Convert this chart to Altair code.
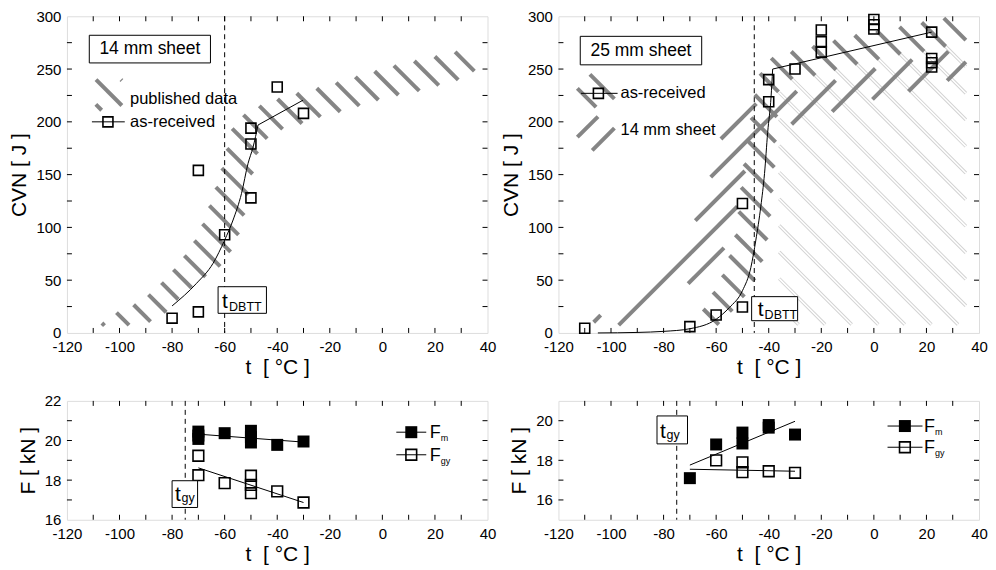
import math
import altair as alt
import pandas as pd

# ---------------- data ----------------
# 14 mm sheet, CVN vs t
t_14 = [-80, -70, -70, -60, -50, -50, -50, -40, -30]
cvn_14 = [14, 20, 154, 93, 128, 179, 194, 233, 208]
fit14_curve_t = [-80, -70.7, -64.4, -60, -56.8, -53.6, -51.1, -49.2, -47.3]
fit14_curve_v = [25.6, 47, 66, 88, 107, 132, 160.6, 176, 197]
fit14_shelf_t = [-47.3, -30.2]
fit14_shelf_v = [197, 220.5]

# 25 mm sheet, CVN vs t
t_25 = [-110, -70, -60, -50, -50, -40, -40, -30, -20, -20, -20, 0, 0, 0, 22, 22, 22, 22]
cvn_25 = [4.5, 6, 17, 24.6, 122.7, 219, 240, 250, 287, 276, 266, 297, 292, 288, 285, 260, 256, 252]
fit25_curve_t = [-105, -90, -80, -70, -60, -55, -50, -46.8, -44.9, -43, -41.6, -40.4, -39.1, -38.5]
fit25_curve_v = [0, 0.5, 1.5, 4, 13, 24, 40, 62, 88, 120, 151, 190, 224, 250]
fit25_shelf_t = [-38.5, 22]
fit25_shelf_v = [250, 285]

# published-data band for the 14 mm sheet (outline: upper-left edge then lower-right edge)
band14_t = [-107, -106, -97, -90, -83, -77.4, -72, -68.3, -65, -61.8, -59.3, -56.8, -51, -42, -32.7, -23,
            -13.7, -4.2, 5.3, 14.8, 25.6, 35,
            35, 24.9, 15.4, 5.3, -4.2, -13.7, -23.2, -32.1, -42, -47.3, -49.8, -51.7, -53.6, -57.7, -62,
            -68, -76, -82, -90, -101]
band14_v = [7, 15, 23, 34, 50, 66, 85, 104, 126, 149.5, 173, 197, 211, 220, 227, 233,
            240, 247, 254, 259, 265, 271,
            244, 237, 230, 225, 219, 211, 205, 197, 190.5, 171.6, 146, 122.7, 99, 77, 62,
            52, 36, 20, 8, 7]

# published-data band for the 25 mm sheet
band25_t = [-63, -66, -62, -57, -54, -52, -51, -50, -48.5, -47, -45, -42, -31, -21, -11, 0, 10, 20, 30, 35,
            35, 30, 20, 10, 0, -11, -20, -30, -36, -37, -38, -39.5, -41, -44, -48, -54, -57]
band25_v = [8, 18, 35, 58, 80, 100, 125, 150, 175, 200, 230, 258, 267, 273, 280, 286, 290, 295, 300, 303,
            276, 273, 267, 264, 258, 252, 245, 241, 238, 200, 150, 110, 80, 55, 38, 20, 8]
# region below the 25 mm band (thin hatching)
region25_t = [-36, 35, 35, 30, 20, 10, 0, -11, -20, -30, -36]
region25_v = [8, 8, 276, 273, 267, 264, 258, 252, 245, 241, 238]

# forces, 14 mm
fm14_t = [-70, -70, -70, -60, -50, -50, -50, -40, -30]
fm14 = [20.45, 20.25, 20.08, 20.37, 20.49, 20.17, 19.9, 19.78, 19.95]
fgy14_t = [-70, -70, -60, -50, -50, -50, -40, -30]
fgy14 = [19.23, 18.25, 17.85, 18.22, 17.76, 17.34, 17.43, 16.87]
fm14_fit_t = [-70, -30]
fm14_fit = [20.32, 19.92]
fgy14_fit_t = [-70, -30]
fgy14_fit = [18.62, 16.87]

# forces, 25 mm
fm25_t = [-70, -60, -50, -50, -40, -40, -30]
fm25 = [17.1, 18.8, 18.85, 19.4, 19.78, 19.65, 19.3]
fgy25_t = [-60, -50, -50, -40, -30]
fgy25 = [18.0, 17.9, 17.4, 17.45, 17.37]
fm25_fit_t = [-70, -30]
fm25_fit = [17.76, 19.97]
fgy25_fit_t = [-70, -30]
fgy25_fit = [17.55, 17.45]

t_dbtt_14 = -60
t_dbtt_25 = -45.5
t_gy_14 = -75
t_gy_25 = -75

# ---------------- layout / style ----------------
W = 421
H_TOP = 317
H_BOT = 119
XDOM = [-120, 40]
FONT = 'Liberation Sans'
HATCH = '#858585'


def to_px(t, v, H, ydom):
    return ((t - XDOM[0]) * W / (XDOM[1] - XDOM[0]), (ydom[1] - v) * H / (ydom[1] - ydom[0]))


def from_px(x, y, H, ydom):
    return (XDOM[0] + x * (XDOM[1] - XDOM[0]) / W, ydom[1] - y * (ydom[1] - ydom[0]) / H)


def hatch(ts, vs, kind, spacing, phase, H, ydom):
    """Clip a family of 45-degree screen lines to a polygon; returns segments in data units."""
    pts = [to_px(t, v, H, ydom) for t, v in zip(ts, vs)]
    if kind == 'back':  # "\"
        a, b = (-1, 1), (1, 1)
    else:  # "/"
        a, b = (1, 1), (1, -1)
    us = [a[0] * x + a[1] * y for x, y in pts]
    k = math.floor((min(us) - phase) / spacing)
    rows = []
    n = len(pts)
    while phase + k * spacing <= max(us):
        c = phase + k * spacing
        hits = []
        for i in range(n):
            (x1, y1), (x2, y2) = pts[i], pts[(i + 1) % n]
            f1 = a[0] * x1 + a[1] * y1 - c
            f2 = a[0] * x2 + a[1] * y2 - c
            if (f1 < 0) != (f2 < 0):
                r = f1 / (f1 - f2)
                hits.append((x1 + r * (x2 - x1), y1 + r * (y2 - y1)))
        hits.sort(key=lambda p: b[0] * p[0] + b[1] * p[1])
        for j in range(0, len(hits) - 1, 2):
            t1, v1 = from_px(*hits[j], H, ydom)
            t2, v2 = from_px(*hits[j + 1], H, ydom)
            rows.append({'t': t1, 'v': v1, 't2': t2, 'v2': v2})
        k += 1
    return pd.DataFrame(rows, columns=['t', 'v', 't2', 'v2'])


def x_axis():
    return alt.Axis(values=list(range(-120, 41, 20)), labelExpr="'' + datum.value",
                    title='t\u00a0\u00a0[ °C ]', domain=False, ticks=False, grid=False,
                    labelPadding=7, titlePadding=2, labelFontSize=15, titleFontSize=21,
                    titleFontWeight='normal', labelFlush=False, labelOverlap=False,
                    labelColor='black', titleColor='black', labelFont=FONT, titleFont=FONT)


def y_axis(values, title):
    return alt.Axis(values=values, labelExpr="'' + datum.value", title=title, domain=False,
                    ticks=False, grid=False, labelPadding=6, titlePadding=6, labelFontSize=15,
                    titleFontSize=21, titleFontWeight='normal', labelFlush=False,
                    labelOverlap=False, labelColor='black', titleColor='black',
                    labelFont=FONT, titleFont=FONT)


def make_panel(H, ydom, yvals, ytitle, ystep, layers_fn):
    xa = x_axis()
    ya = y_axis(yvals, ytitle)
    xs = alt.Scale(domain=XDOM, nice=False, zero=False)
    ys = alt.Scale(domain=ydom, nice=False, zero=False)

    def X(f='t'):
        return alt.X(f + ':Q', scale=xs, axis=xa)

    def Y(f='v'):
        return alt.Y(f + ':Q', scale=ys, axis=ya)

    layers = layers_fn(X, Y)

    # inward ticks on all four sides
    xt = pd.DataFrame({'t': list(range(-110, 40, 10))})
    yt_vals = []
    v = ydom[0] + ystep
    while v < ydom[1] - 1e-9:
        yt_vals.append(v)
        v += ystep
    yt = pd.DataFrame({'v': yt_vals})
    layers += [
        alt.Chart(xt).mark_rule(color='black', strokeWidth=1).encode(x=X(), y=alt.value(H), y2=alt.value(H - 5)),
        alt.Chart(xt).mark_rule(color='black', strokeWidth=1).encode(x=X(), y=alt.value(0), y2=alt.value(5)),
        alt.Chart(yt).mark_rule(color='black', strokeWidth=1).encode(y=Y(), x=alt.value(0), x2=alt.value(5)),
        alt.Chart(yt).mark_rule(color='black', strokeWidth=1).encode(y=Y(), x=alt.value(W), x2=alt.value(W - 5)),
    ]
    return alt.layer(*layers).properties(width=W, height=H)


def seg_layer(df, X, Y, color, width):
    return alt.Chart(df).mark_rule(color=color, strokeWidth=width, strokeCap='butt', clip=True).encode(
        x=X('t'), y=Y('v'), x2='t2:Q', y2='v2:Q')


def box_layer(t1, t2, v1, v2, X, Y):
    df = pd.DataFrame({'t': [t1], 't2': [t2], 'v': [v1], 'v2': [v2]})
    return alt.Chart(df).mark_rect(fill='white', stroke='black', strokeWidth=1).encode(
        x=X('t'), x2='t2:Q', y=Y('v'), y2='v2:Q')


def text_layer(t, v, txt, X, Y, size, dx=0, dy=0, baseline='middle', align='left'):
    df = pd.DataFrame({'t': [t], 'v': [v], 'label': [txt]})
    return alt.Chart(df).mark_text(font=FONT, fontSize=size, color='black', align=align,
                                   baseline=baseline, dx=dx, dy=dy).encode(
        x=X('t'), y=Y('v'), text='label:N')


def line_layer(ts, vs, X, Y, interp='linear'):
    df = pd.DataFrame({'t': ts, 'v': vs})
    return alt.Chart(df).mark_line(color='black', strokeWidth=1, interpolate=interp).encode(x=X('t'), y=Y('v'))


def sq_layer(ts, vs, X, Y, filled=False, size=100):
    df = pd.DataFrame({'t': ts, 'v': vs})
    if filled:
        m = alt.Chart(df).mark_point(shape='square', filled=True, size=size, color='black', opacity=1)
    else:
        m = alt.Chart(df).mark_point(shape='square', filled=False, size=size, color='black',
                                     strokeWidth=1.6, opacity=1)
    return m.encode(x=X('t'), y=Y('v'))


def vdash(t, X):
    return alt.Chart(pd.DataFrame({'t': [t]})).mark_rule(color='black', strokeWidth=1, strokeDash=[5, 4]).encode(x=X('t'))


YTOP = [0, 300]


# ---------- top-left: 14 mm sheet ----------
def tl_layers(X, Y):
    L = []
    L.append(seg_layer(hatch(band14_t, band14_v, 'back', 25, 22, H_TOP, YTOP), X, Y, HATCH, 4))
    # legend patch for "published data"
    L.append(seg_layer(hatch([-109, -99.1, -99.1, -109], [240, 240, 211, 211], 'back', 25, 9.3, H_TOP, YTOP), X, Y, HATCH, 4))
    L.append(vdash(t_dbtt_14, X))
    L.append(line_layer(fit14_curve_t, fit14_curve_v, X, Y, 'monotone'))
    L.append(line_layer(fit14_shelf_t, fit14_shelf_v, X, Y))
    L.append(sq_layer(t_14, cvn_14, X, Y))
    # legend
    L.append(line_layer([-110.5, -98], [200, 200], X, Y))
    L.append(sq_layer([-104.4], [200], X, Y))
    L.append(text_layer(-96, 221.5, 'published data', X, Y, 16.5))
    L.append(text_layer(-96, 200, 'as-received', X, Y, 16.5))
    # labels
    L.append(box_layer(-111.5, -65.4, 255.8, 282, X, Y))
    L.append(text_layer(-88.45, 268.9, '14 mm sheet', X, Y, 17.5, align='center'))
    L.append(box_layer(-62.5, -44.1, 18.6, 43.8, X, Y))
    L.append(text_layer(-62.5, 18.6, 't', X, Y, 21, dx=4, dy=-5, baseline='alphabetic'))
    L.append(text_layer(-62.5, 18.6, 'DBTT', X, Y, 12.5, dx=11, dy=-2, baseline='alphabetic'))
    return L


# ---------- top-right: 25 mm sheet ----------
def tr_layers(X, Y):
    L = []
    thin = hatch(region25_t, region25_v, 'back', 26.6, 15, H_TOP, YTOP)
    L.append(seg_layer(thin, X, Y, '#d2d2d2', 3.4))
    L.append(seg_layer(thin, X, Y, 'white', 1.5))
    L.append(seg_layer(hatch(band14_t, band14_v, 'fwd', 28, 5.5, H_TOP, YTOP), X, Y, HATCH, 4))
    L.append(seg_layer(hatch(band25_t, band25_v, 'back', 26.6, 15, H_TOP, YTOP), X, Y, HATCH, 4))
    # legend patches
    L.append(seg_layer(hatch([-112.8, -98.7, -98.7, -112.8], [245, 245, 214, 214], 'back', 26.6, 0, H_TOP, YTOP), X, Y, HATCH, 4))
    L.append(seg_layer(hatch([-112.8, -98.7, -98.7, -112.8], [205, 205, 173, 173], 'fwd', 28, 0, H_TOP, YTOP), X, Y, HATCH, 4))
    L.append(vdash(t_dbtt_25, X))
    L.append(line_layer(fit25_curve_t, fit25_curve_v, X, Y, 'monotone'))
    L.append(line_layer(fit25_shelf_t, fit25_shelf_v, X, Y))
    L.append(sq_layer(t_25, cvn_25, X, Y))
    L.append(line_layer([-111.4, -97.5], [227, 227], X, Y))
    L.append(sq_layer([-104.8], [227], X, Y))
    L.append(text_layer(-96.4, 227, 'as-received', X, Y, 16.5))
    L.append(text_layer(-96.4, 192, '14 mm sheet', X, Y, 16.5))
    L.append(box_layer(-111.7, -65.5, 254, 281, X, Y))
    L.append(text_layer(-88.6, 267.5, '25 mm sheet', X, Y, 17.5, align='center'))
    L.append(box_layer(-46.5, -29.0, 11.6, 34.4, X, Y))
    L.append(text_layer(-46.5, 11.6, 't', X, Y, 21, dx=6, dy=-5, baseline='alphabetic'))
    L.append(text_layer(-46.5, 11.6, 'DBTT', X, Y, 12.5, dx=13, dy=-2, baseline='alphabetic'))
    return L


# ---------- bottom-left ----------
YBL = [16, 22]


def bl_layers(X, Y):
    L = []
    L.append(vdash(t_gy_14, X))
    L.append(line_layer(fm14_fit_t, fm14_fit, X, Y))
    L.append(line_layer(fgy14_fit_t, fgy14_fit, X, Y))
    L.append(sq_layer(fm14_t, fm14, X, Y, filled=True, size=144))
    L.append(sq_layer(fgy14_t, fgy14, X, Y, size=115))
    L.append(box_layer(-80.0, -70.3, 16.62, 17.97, X, Y))
    L.append(text_layer(-80.0, 16.62, 't', X, Y, 21, dx=3, dy=-6, baseline='alphabetic'))
    L.append(text_layer(-80.0, 16.62, 'gy', X, Y, 12.5, dx=9.5, dy=-5, baseline='alphabetic'))
    # legend
    L.append(line_layer([5.3, 16.7], [20.42, 20.42], X, Y))
    L.append(sq_layer([11], [20.42], X, Y, filled=True, size=144))
    L.append(line_layer([5.3, 16.7], [19.28, 19.28], X, Y))
    L.append(sq_layer([11], [19.28], X, Y, size=115))
    L.append(text_layer(18, 20.42, 'F', X, Y, 18, dy=6, baseline='alphabetic'))
    L.append(text_layer(18, 20.42, 'm', X, Y, 9, dx=11, dy=9, baseline='alphabetic'))
    L.append(text_layer(18, 19.28, 'F', X, Y, 18, dy=6, baseline='alphabetic'))
    L.append(text_layer(18, 19.28, 'gy', X, Y, 9, dx=11, dy=9, baseline='alphabetic'))
    return L


# ---------- bottom-right ----------
YBR = [15, 21]


def br_layers(X, Y):
    L = []
    L.append(vdash(t_gy_25, X))
    L.append(line_layer(fm25_fit_t, fm25_fit, X, Y))
    L.append(line_layer(fgy25_fit_t, fgy25_fit, X, Y))
    L.append(sq_layer(fm25_t, fm25, X, Y, filled=True, size=144))
    L.append(sq_layer(fgy25_t, fgy25, X, Y, size=115))
    L.append(box_layer(-82.5, -70.9, 18.83, 20.24, X, Y))
    L.append(text_layer(-82.5, 18.83, 't', X, Y, 21, dx=3, dy=-6, baseline='alphabetic'))
    L.append(text_layer(-82.5, 18.83, 'gy', X, Y, 12.5, dx=9.5, dy=-5, baseline='alphabetic'))
    L.append(line_layer([5.2, 18.5], [19.73, 19.73], X, Y))
    L.append(sq_layer([11.8], [19.73], X, Y, filled=True, size=144))
    L.append(line_layer([5.2, 18.5], [18.66, 18.66], X, Y))
    L.append(sq_layer([11.8], [18.66], X, Y, size=115))
    L.append(text_layer(19.1, 19.73, 'F', X, Y, 18, dy=6, baseline='alphabetic'))
    L.append(text_layer(19.1, 19.73, 'm', X, Y, 9, dx=11, dy=9, baseline='alphabetic'))
    L.append(text_layer(19.1, 18.66, 'F', X, Y, 18, dy=6, baseline='alphabetic'))
    L.append(text_layer(19.1, 18.66, 'gy', X, Y, 9, dx=11, dy=9, baseline='alphabetic'))
    return L


p_tl = make_panel(H_TOP, YTOP, list(range(0, 301, 50)), 'CVN [ J ]', 25, tl_layers)
p_tr = make_panel(H_TOP, YTOP, list(range(0, 301, 50)), 'CVN [ J ]', 25, tr_layers)
p_bl = make_panel(H_BOT, YBL, [16, 18, 20, 22], 'F [ kN ]', 1, bl_layers)
p_br = make_panel(H_BOT, YBR, [16, 18, 20], 'F [ kN ]', 1, br_layers)

chart = alt.concat(p_tl, p_tr, p_bl, p_br, columns=2,
                   spacing={'row': 68, 'column': 71}, bounds='flush').properties(
    padding={'left': 0, 'top': 0, 'right': 0, 'bottom': 0}
).configure_view(stroke='black', strokeWidth=1).configure(background='white')

chart.save('out.html', embed_options={'renderer': 'svg', 'actions': False})
